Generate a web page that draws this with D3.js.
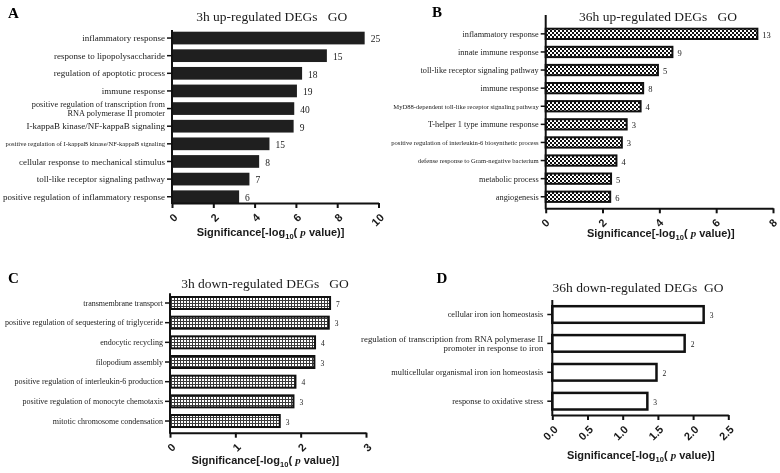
<!DOCTYPE html>
<html><head><meta charset="utf-8">
<script src="https://cdn.jsdelivr.net/npm/d3@7"></script>
<style>
html,body{margin:0;padding:0;background:#fff;}
svg{display:block;will-change:transform;}
</style></head><body>
<svg id="chart" width="780" height="473"></svg>
<script>
// ---------------- DATA ----------------
const termsA = ["inflammatory response","response to lipopolysaccharide","regulation of apoptotic process","immune response","positive regulation of transcription from\nRNA polymerase II promoter","I-kappaB kinase/NF-kappaB signaling","positive regulation of I-kappaB kinase/NF-kappaB signaling","cellular response to mechanical stimulus","toll-like receptor signaling pathway","positive regulation of inflammatory response"];
const valuesA = [9.33, 7.5, 6.3, 6.05, 5.92, 5.89, 4.72, 4.22, 3.75, 3.25];
const countsA = [25, 15, 18, 19, 40, 9, 15, 8, 7, 6];
const ticksA = [0, 2, 4, 6, 8, 10];

const termsB = ["inflammatory response","innate immune response","toll-like receptor signaling pathway","immune response","MyD88-dependent toll-like receptor signaling pathway","T-helper 1 type immune response","positive regulation of interleukin-6 biosynthetic process","defense response to Gram-negative bacterium","metabolic process","angiogenesis"];
const valuesB = [7.45, 4.46, 3.95, 3.43, 3.34, 2.85, 2.68, 2.49, 2.30, 2.27];
const countsB = [13, 9, 5, 8, 4, 3, 3, 4, 5, 6];
const ticksB = [0, 2, 4, 6, 8];

const termsC = ["transmembrane transport","positive regulation of sequestering of triglyceride","endocytic recycling","filopodium assembly","positive regulation of interleukin-6 production","positive regulation of monocyte chemotaxis","mitotic chromosome condensation"];
const valuesC = [2.45, 2.43, 2.22, 2.21, 1.92, 1.89, 1.68];
const countsC = [7, 3, 4, 3, 4, 3, 3];
const ticksC = [0, 1, 2, 3];

const termsD = ["cellular iron ion homeostasis","regulation of transcription from RNA polymerase II\npromoter in response to iron","multicellular organismal iron ion homeostasis","response to oxidative stress"];
const valuesD = [2.15, 1.88, 1.48, 1.35];
const countsD = [3, 2, 2, 3];
const ticksD = [0, 0.5, 1, 1.5, 2, 2.5];

const titles = ["3h up-regulated DEGs   GO","36h up-regulated DEGs   GO","3h down-regulated DEGs   GO","36h down-regulated DEGs  GO"];
const letters = ["A","B","C","D"];

// ---------------- STYLE / LAYOUT ----------------
const SERIF = '"Liberation Serif","Times New Roman",serif';
const SANS = '"Liberation Sans",Arial,sans-serif';
const INK = "#1a1a1a";

const svg = d3.select("#chart");
const defs = svg.append("defs");
const chk = defs.append("pattern").attr("id","checker").attr("patternUnits","userSpaceOnUse")
  .attr("width",4).attr("height",4);
chk.append("rect").attr("width",4).attr("height",4).attr("fill","#fff");
chk.append("rect").attr("width",2).attr("height",2).attr("fill","#111");
chk.append("rect").attr("x",2).attr("y",2).attr("width",2).attr("height",2).attr("fill","#111");
const grd = defs.append("pattern").attr("id","grid").attr("patternUnits","userSpaceOnUse")
  .attr("width",3).attr("height",3);
grd.append("rect").attr("width",3).attr("height",3).attr("fill","#fff");
grd.append("rect").attr("width",1).attr("height",3).attr("fill","#3a3a3a");
grd.append("rect").attr("width",3).attr("height",1).attr("fill","#3a3a3a");

const panels = [
  {terms:termsA, values:valuesA, counts:countsA, ticks:ticksA, fmt:d3.format("d"), max:10,
   x0:172, x1:378.5, axisY:203, axisTop:30, firstTop:31.7, step:17.63, bw:12.7,
   fill:"#1f1f1f", stroke:"none", sw:0, labelSize:9, smallLen:50, smallSize:6.6, wrapSize:8.3, labelGap:7,
   countSize:9.5, countDx:6, tickDx:3, title:[271.7,21], letter:[8,17.5], axisTitle:[270.5,236]},
  {terms:termsB, values:valuesB, counts:countsB, ticks:ticksB, fmt:d3.format("d"), max:8,
   x0:545.7, x1:773, axisY:208.3, axisTop:15, firstTop:28.7, step:18.1, bw:10.3,
   fill:"url(#checker)", stroke:"#111", sw:2, labelSize:8.3, smallLen:40, smallSize:6.6, wrapSize:8.3, labelGap:7,
   countSize:8.5, countDx:5, tickDx:1.5, title:[658,21], letter:[432,16.5], axisTitle:[660.8,237]},
  {terms:termsC, values:valuesC, counts:countsC, ticks:ticksC, fmt:d3.format("d"), max:3,
   x0:170, x1:366, axisY:432.7, axisTop:293.3, firstTop:297, step:19.67, bw:12,
   fill:"url(#grid)", stroke:"#111", sw:2, labelSize:8, smallLen:999, smallSize:8, wrapSize:8, labelGap:7,
   countSize:7.5, countDx:6, tickDx:3, title:[265,287.7], letter:[8,282.5], axisTitle:[265.3,464]},
  {terms:termsD, values:valuesD, counts:countsD, ticks:ticksD, fmt:d3.format(".1f"), max:2.5,
   x0:552.3, x1:728.3, axisY:415, axisTop:300, firstTop:306.2, step:28.9, bw:16.6,
   fill:"#fff", stroke:"#111", sw:2.5, labelSize:8.3, smallLen:999, smallSize:8.3, wrapSize:8.8, labelGap:9,
   countSize:7.5, countDx:6, tickDx:3, title:[638,291.7], letter:[436.5,282.5], axisTitle:[640.8,459]}
];

panels.forEach((p, i) => {
  const g = svg.append("g");
  const n = p.terms.length;
  const x = d3.scaleLinear().domain([0, p.max]).range([p.x0, p.x1]);
  const pi = 1 - p.bw / p.step;
  const start = p.firstTop - (pi / 2) * p.step;
  const y = d3.scaleBand().domain(p.terms).range([start, start + n * p.step])
    .paddingInner(pi).paddingOuter(pi / 2);
  const rows = p.terms.map((t, k) => ({term:t, value:p.values[k], count:p.counts[k]}));

  // bars
  g.selectAll("rect.bar").data(rows).join("rect").attr("class","bar")
    .attr("x", x(0)).attr("y", d => y(d.term))
    .attr("width", d => x(d.value) - x(0)).attr("height", y.bandwidth())
    .attr("fill", p.fill).attr("stroke", p.stroke).attr("stroke-width", p.sw);

  // counts
  g.selectAll("text.count").data(rows).join("text").attr("class","count")
    .attr("x", d => x(d.value) + p.countDx).attr("y", d => y(d.term) + y.bandwidth() / 2 + 1)
    .attr("dy","0.35em").attr("font-family", SERIF).attr("font-size", p.countSize)
    .attr("fill", INK).text(d => d.count);

  // x axis
  const xa = g.append("g").attr("transform", `translate(0,${p.axisY})`)
    .call(d3.axisBottom(x).tickValues(p.ticks).tickFormat(p.fmt).tickSize(5).tickSizeOuter(0));
  xa.select(".domain").attr("stroke", "#111").attr("stroke-width", 2);
  xa.selectAll(".tick line").attr("stroke", "#111").attr("stroke-width", 2);
  xa.selectAll(".tick text").attr("x", 0).attr("y", 0).attr("dy", "0.35em")
    .attr("transform", `translate(${p.tickDx},12.5) rotate(-45)`).attr("text-anchor", "end")
    .attr("font-family", SANS).attr("font-weight", "bold").attr("font-size", 11).attr("fill", INK);

  // y axis
  const ya = g.append("g").attr("transform", `translate(${p.x0},0)`)
    .call(d3.axisLeft(y).tickSize(5).tickSizeOuter(0).tickFormat(""));
  ya.select(".domain").remove();
  ya.selectAll(".tick line").attr("stroke", "#111").attr("stroke-width", 1.5);
  g.append("line").attr("x1", p.x0).attr("x2", p.x0).attr("y1", p.axisTop).attr("y2", p.axisY + 1)
    .attr("stroke", "#111").attr("stroke-width", 2);

  // category labels
  rows.forEach(d => {
    const lines = d.term.split("\n");
    const longest = d3.max(lines, l => l.length);
    const fs = lines.length > 1 ? p.wrapSize : (longest > p.smallLen ? p.smallSize : p.labelSize);
    const cy = y(d.term) + y.bandwidth() / 2;
    const lh = fs * 1.12;
    const t = g.append("text").attr("font-family", SERIF).attr("font-size", fs)
      .attr("fill", INK).attr("text-anchor", "end");
    lines.forEach((ln, k) => {
      t.append("tspan").attr("x", p.x0 - p.labelGap)
        .attr("y", cy + (k - (lines.length - 1) / 2) * lh).attr("dy", "0.35em").text(ln);
    });
  });

  // title
  g.append("text").attr("x", p.title[0]).attr("y", p.title[1]).attr("text-anchor", "middle")
    .attr("font-family", SERIF).attr("font-size", 13.5).attr("fill", INK)
    .style("white-space", "pre").text(titles[i]);
  // letter
  g.append("text").attr("x", p.letter[0]).attr("y", p.letter[1])
    .attr("font-family", SERIF).attr("font-weight", "bold").attr("font-size", 15)
    .attr("fill", "#000").text(letters[i]);
  // axis title
  const at = g.append("text").attr("x", p.axisTitle[0]).attr("y", p.axisTitle[1])
    .attr("text-anchor", "middle").attr("font-family", SANS).attr("font-weight", "bold")
    .attr("font-size", 11).attr("fill", INK).style("white-space", "pre");
  at.append("tspan").text("Significance[-log");
  at.append("tspan").attr("font-size", 7.5).attr("dy", 3).text("10");
  at.append("tspan").attr("dy", -3).text("( ");
  at.append("tspan").attr("font-family", SERIF).attr("font-style", "italic").text("p");
  at.append("tspan").text(" value)]");
});
</script>
</body></html>
